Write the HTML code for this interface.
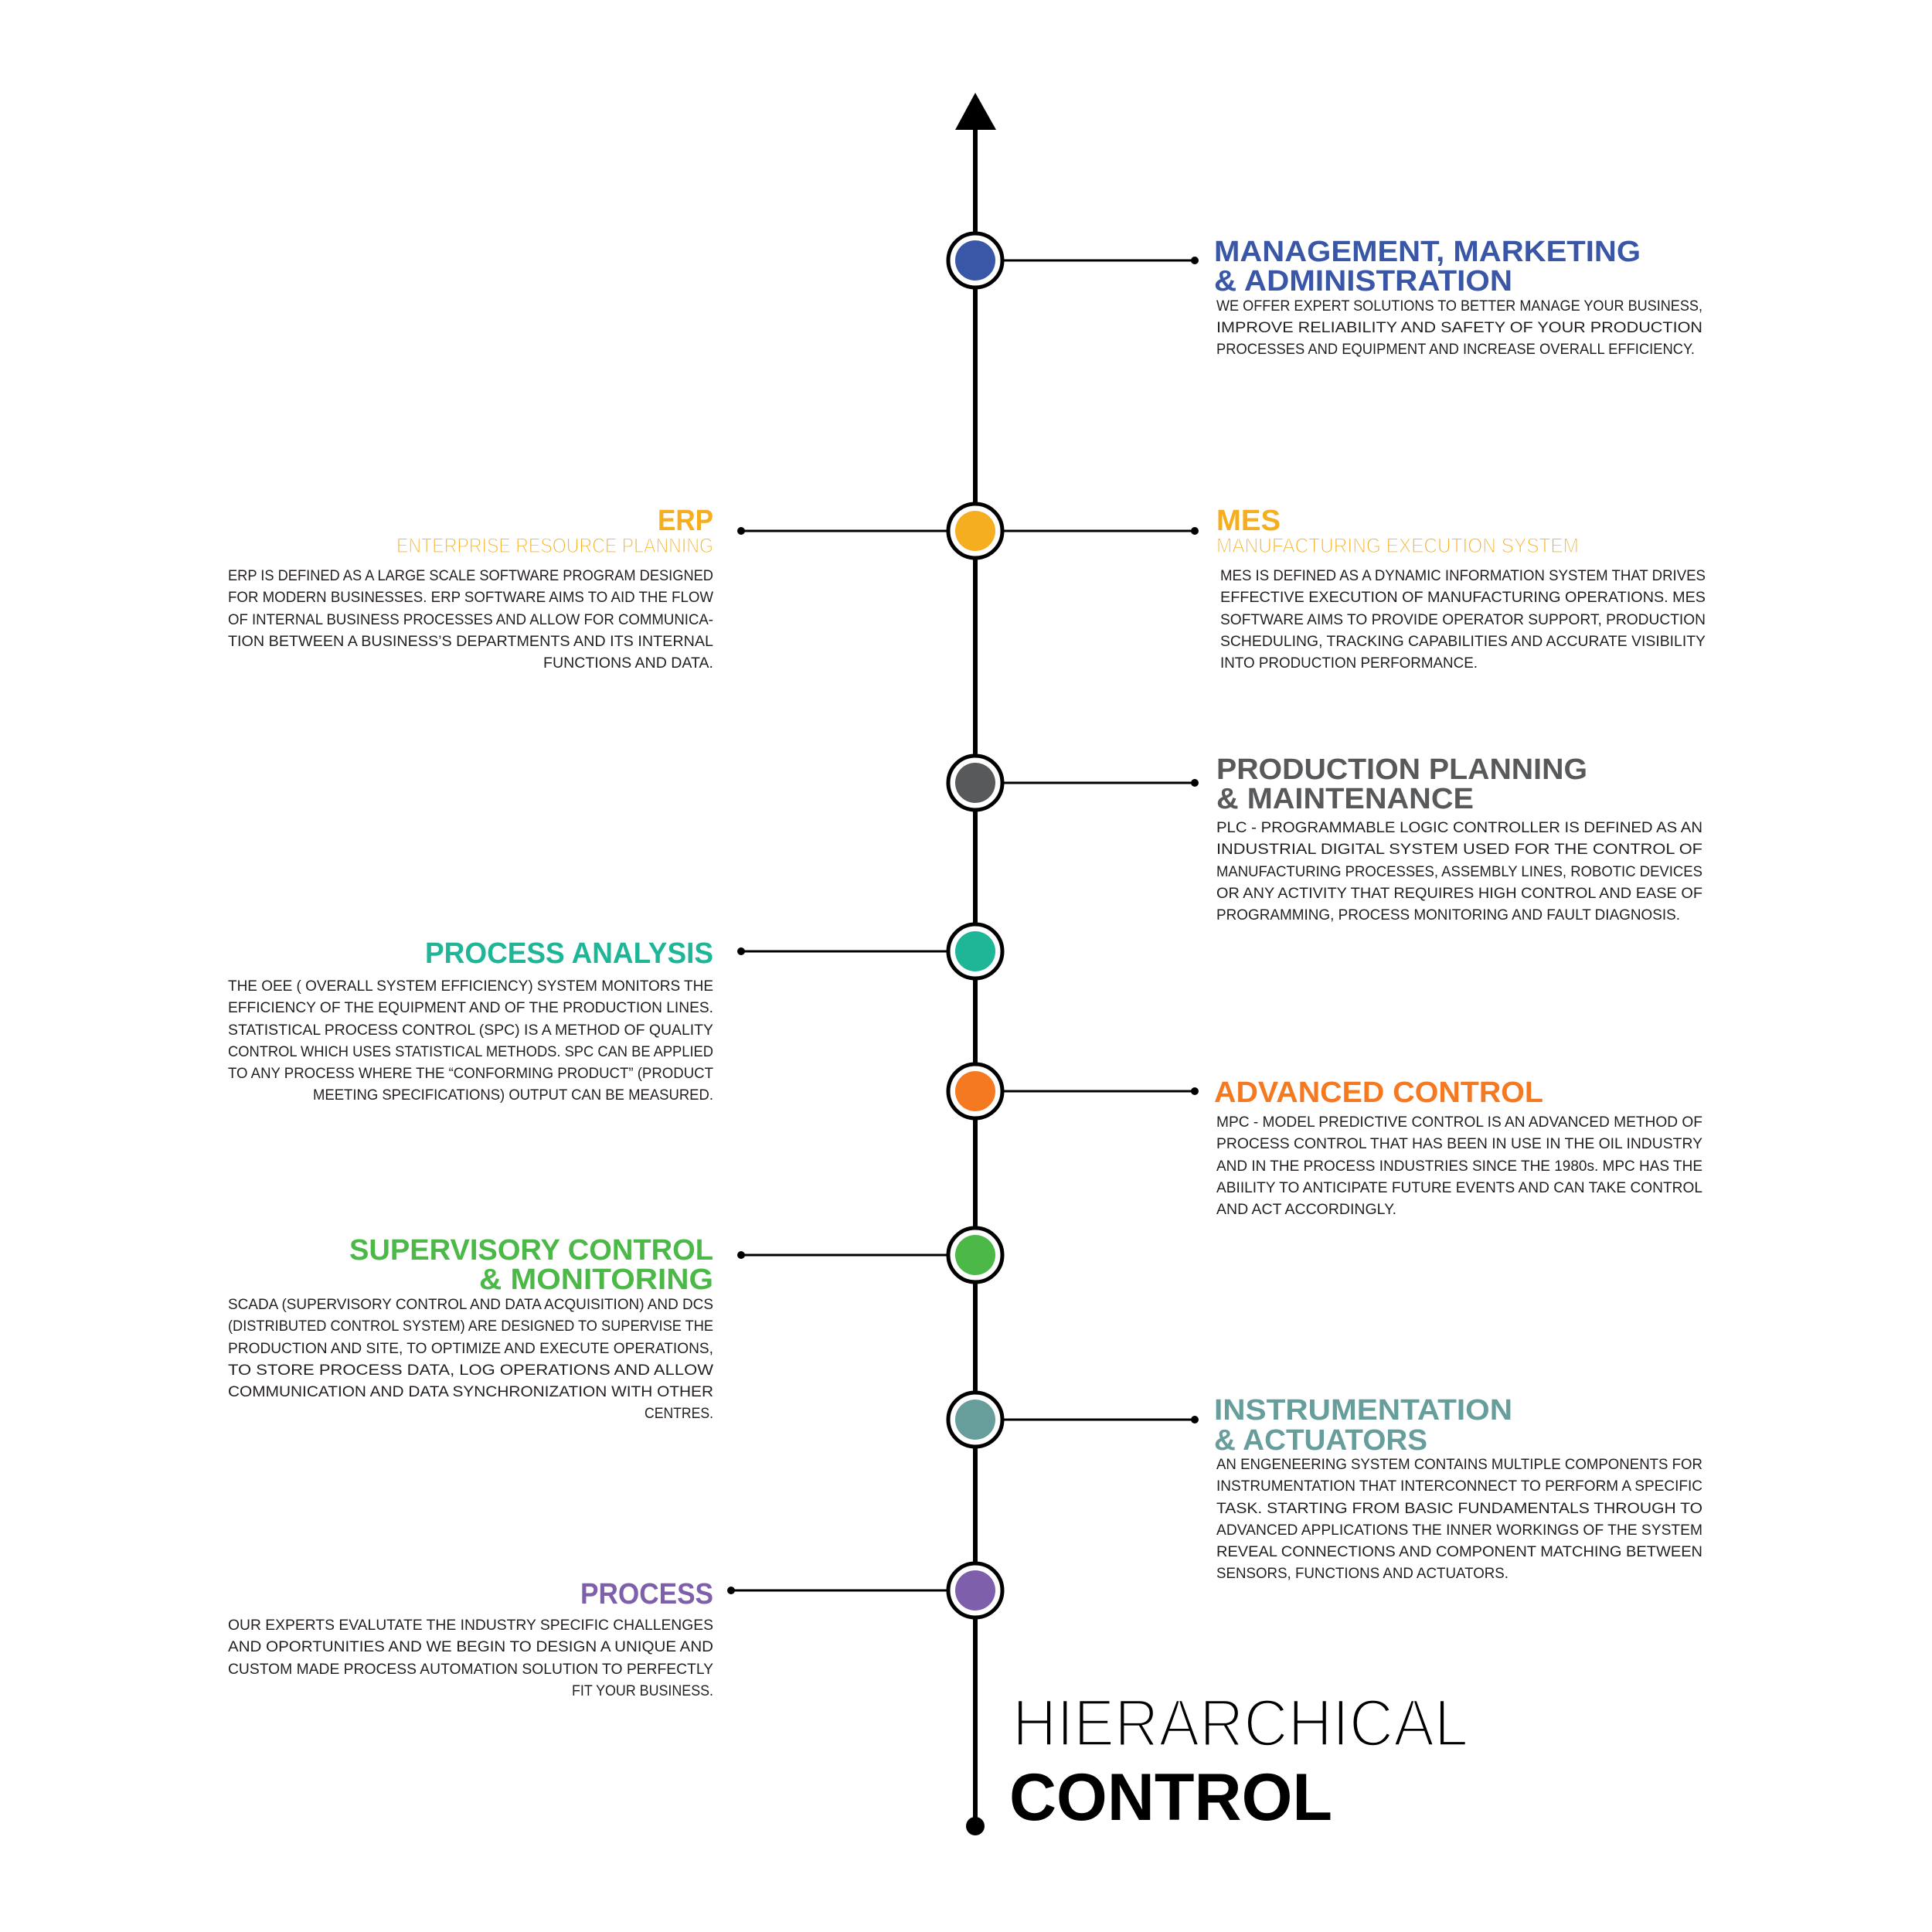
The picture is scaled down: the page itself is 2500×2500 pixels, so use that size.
<!DOCTYPE html>
<html><head><meta charset="utf-8"><style>
html,body{margin:0;padding:0;background:#fff;}
svg{display:block;}
text{font-family:"Liberation Sans",sans-serif;}
.h{font-weight:bold;font-size:38px;}
.b{font-size:19px;fill:#231f20;}
.s{font-size:27px;stroke:#fff;stroke-width:1.2px;paint-order:normal;}
</style></head><body>
<svg width="2500" height="2500" viewBox="0 0 2500 2500" xmlns="http://www.w3.org/2000/svg">
<rect width="2500" height="2500" fill="#fff"/>
<line x1="1262" y1="160" x2="1262" y2="2362" stroke="#000" stroke-width="6"/>
<polygon points="1262,120 1236,168 1289,168" fill="#000"/>
<circle cx="1262" cy="2363" r="12" fill="#000"/>
<g stroke="#000" stroke-width="3">
<line x1="1262" y1="337" x2="1546" y2="337"/>
<line x1="959" y1="687" x2="1546" y2="687"/>
<line x1="1262" y1="1013" x2="1546" y2="1013"/>
<line x1="959" y1="1231" x2="1262" y2="1231"/>
<line x1="1262" y1="1412" x2="1546" y2="1412"/>
<line x1="959" y1="1624" x2="1262" y2="1624"/>
<line x1="1262" y1="1837" x2="1546" y2="1837"/>
<line x1="946" y1="2058" x2="1262" y2="2058"/>
</g>
<g fill="#000">
<circle cx="1546" cy="337" r="5"/><circle cx="959" cy="687" r="5"/><circle cx="1546" cy="687" r="5"/>
<circle cx="1546" cy="1013" r="5"/><circle cx="959" cy="1231" r="5"/><circle cx="1546" cy="1412" r="5"/>
<circle cx="959" cy="1624" r="5"/><circle cx="1546" cy="1837" r="5"/><circle cx="946" cy="2058" r="5"/>
</g>
<g stroke="#000" stroke-width="5" fill="#fff">
<circle cx="1262" cy="337" r="35"/><circle cx="1262" cy="687" r="35"/><circle cx="1262" cy="1013" r="35"/>
<circle cx="1262" cy="1231" r="35"/><circle cx="1262" cy="1412" r="35"/><circle cx="1262" cy="1624" r="35"/>
<circle cx="1262" cy="1837" r="35"/><circle cx="1262" cy="2058" r="35"/>
</g>
<circle cx="1262" cy="337" r="26" fill="#3a57a7"/>
<circle cx="1262" cy="687" r="26" fill="#f5ae1f"/>
<circle cx="1262" cy="1013" r="26" fill="#58595b"/>
<circle cx="1262" cy="1231" r="26" fill="#1fb597"/>
<circle cx="1262" cy="1412" r="26" fill="#f47920"/>
<circle cx="1262" cy="1624" r="26" fill="#4bb848"/>
<circle cx="1262" cy="1837" r="26" fill="#679e9b"/>
<circle cx="1262" cy="2058" r="26" fill="#7e5fab"/>

<g fill="#3a57a7" class="h">
<text x="1571" y="338" textLength="552" lengthAdjust="spacingAndGlyphs">MANAGEMENT, MARKETING</text>
<text x="1571" y="376" textLength="386" lengthAdjust="spacingAndGlyphs">&amp; ADMINISTRATION</text>
</g>
<g class="b">
<text x="1574" y="402" textLength="629" lengthAdjust="spacingAndGlyphs">WE OFFER EXPERT SOLUTIONS TO BETTER MANAGE YOUR BUSINESS,</text>
<text x="1574" y="430" textLength="629" lengthAdjust="spacingAndGlyphs">IMPROVE RELIABILITY AND SAFETY OF YOUR PRODUCTION</text>
<text x="1574" y="458" textLength="619" lengthAdjust="spacingAndGlyphs">PROCESSES AND EQUIPMENT AND INCREASE OVERALL EFFICIENCY.</text>
</g>

<text class="h" fill="#f5ae1f" x="923" y="686" text-anchor="end" textLength="72" lengthAdjust="spacingAndGlyphs">ERP</text>
<text class="s" fill="#f5ae1f" x="923" y="715" text-anchor="end" textLength="410" lengthAdjust="spacingAndGlyphs">ENTERPRISE RESOURCE PLANNING</text>
<g class="b">
<text x="295" y="751" textLength="628" lengthAdjust="spacingAndGlyphs">ERP IS DEFINED AS A LARGE SCALE SOFTWARE PROGRAM DESIGNED</text>
<text x="295" y="779" textLength="628" lengthAdjust="spacingAndGlyphs">FOR MODERN BUSINESSES. ERP SOFTWARE AIMS TO AID THE FLOW</text>
<text x="295" y="808" textLength="628" lengthAdjust="spacingAndGlyphs">OF INTERNAL BUSINESS PROCESSES AND ALLOW FOR COMMUNICA-</text>
<text x="295" y="836" textLength="628" lengthAdjust="spacingAndGlyphs">TION BETWEEN A BUSINESS’S DEPARTMENTS AND ITS INTERNAL</text>
<text x="923" y="864" text-anchor="end" textLength="220" lengthAdjust="spacingAndGlyphs">FUNCTIONS AND DATA.</text>
</g>

<text class="h" fill="#f5ae1f" x="1574" y="686" textLength="83" lengthAdjust="spacingAndGlyphs">MES</text>
<text class="s" fill="#f5ae1f" x="1574" y="715" textLength="469" lengthAdjust="spacingAndGlyphs">MANUFACTURING EXECUTION SYSTEM</text>
<g class="b">
<text x="1579" y="751" textLength="628" lengthAdjust="spacingAndGlyphs">MES IS DEFINED AS A DYNAMIC INFORMATION SYSTEM THAT DRIVES</text>
<text x="1579" y="779" textLength="628" lengthAdjust="spacingAndGlyphs">EFFECTIVE EXECUTION OF MANUFACTURING OPERATIONS. MES</text>
<text x="1579" y="808" textLength="628" lengthAdjust="spacingAndGlyphs">SOFTWARE AIMS TO PROVIDE OPERATOR SUPPORT, PRODUCTION</text>
<text x="1579" y="836" textLength="628" lengthAdjust="spacingAndGlyphs">SCHEDULING, TRACKING CAPABILITIES AND ACCURATE VISIBILITY</text>
<text x="1579" y="864" textLength="333" lengthAdjust="spacingAndGlyphs">INTO PRODUCTION PERFORMANCE.</text>
</g>

<g fill="#58595b" class="h">
<text x="1574" y="1008" textLength="480" lengthAdjust="spacingAndGlyphs">PRODUCTION PLANNING</text>
<text x="1574" y="1046" textLength="333" lengthAdjust="spacingAndGlyphs">&amp; MAINTENANCE</text>
</g>
<g class="b">
<text x="1574" y="1077" textLength="629" lengthAdjust="spacingAndGlyphs">PLC - PROGRAMMABLE LOGIC CONTROLLER IS DEFINED AS AN</text>
<text x="1574" y="1105" textLength="629" lengthAdjust="spacingAndGlyphs">INDUSTRIAL DIGITAL SYSTEM USED FOR THE CONTROL OF</text>
<text x="1574" y="1134" textLength="629" lengthAdjust="spacingAndGlyphs">MANUFACTURING PROCESSES, ASSEMBLY LINES, ROBOTIC DEVICES</text>
<text x="1574" y="1162" textLength="629" lengthAdjust="spacingAndGlyphs">OR ANY ACTIVITY THAT REQUIRES HIGH CONTROL AND EASE OF</text>
<text x="1574" y="1190" textLength="600" lengthAdjust="spacingAndGlyphs">PROGRAMMING, PROCESS MONITORING AND FAULT DIAGNOSIS.</text>
</g>

<text class="h" fill="#1fb597" x="923" y="1246" text-anchor="end" textLength="373" lengthAdjust="spacingAndGlyphs">PROCESS ANALYSIS</text>
<g class="b">
<text x="295" y="1282" textLength="628" lengthAdjust="spacingAndGlyphs">THE OEE ( OVERALL SYSTEM EFFICIENCY) SYSTEM MONITORS THE</text>
<text x="295" y="1310" textLength="628" lengthAdjust="spacingAndGlyphs">EFFICIENCY OF THE EQUIPMENT AND OF THE PRODUCTION LINES.</text>
<text x="295" y="1339" textLength="628" lengthAdjust="spacingAndGlyphs">STATISTICAL PROCESS CONTROL (SPC) IS A METHOD OF QUALITY</text>
<text x="295" y="1367" textLength="628" lengthAdjust="spacingAndGlyphs">CONTROL WHICH USES STATISTICAL METHODS. SPC CAN BE APPLIED</text>
<text x="295" y="1395" textLength="628" lengthAdjust="spacingAndGlyphs">TO ANY PROCESS WHERE THE “CONFORMING PRODUCT” (PRODUCT</text>
<text x="923" y="1423" text-anchor="end" textLength="518" lengthAdjust="spacingAndGlyphs">MEETING SPECIFICATIONS) OUTPUT CAN BE MEASURED.</text>
</g>

<text class="h" fill="#f47920" x="1571" y="1426" textLength="426" lengthAdjust="spacingAndGlyphs">ADVANCED CONTROL</text>
<g class="b">
<text x="1574" y="1458" textLength="629" lengthAdjust="spacingAndGlyphs">MPC - MODEL PREDICTIVE CONTROL IS AN ADVANCED METHOD OF</text>
<text x="1574" y="1486" textLength="629" lengthAdjust="spacingAndGlyphs">PROCESS CONTROL THAT HAS BEEN IN USE IN THE OIL INDUSTRY</text>
<text x="1574" y="1515" textLength="629" lengthAdjust="spacingAndGlyphs">AND IN THE PROCESS INDUSTRIES SINCE THE 1980s. MPC HAS THE</text>
<text x="1574" y="1543" textLength="629" lengthAdjust="spacingAndGlyphs">ABIILITY TO ANTICIPATE FUTURE EVENTS AND CAN TAKE CONTROL</text>
<text x="1574" y="1571" textLength="233" lengthAdjust="spacingAndGlyphs">AND ACT ACCORDINGLY.</text>
</g>

<g fill="#4bb848" class="h">
<text x="923" y="1630" text-anchor="end" textLength="471" lengthAdjust="spacingAndGlyphs">SUPERVISORY CONTROL</text>
<text x="923" y="1668" text-anchor="end" textLength="303" lengthAdjust="spacingAndGlyphs">&amp; MONITORING</text>
</g>
<g class="b">
<text x="295" y="1694" textLength="628" lengthAdjust="spacingAndGlyphs">SCADA (SUPERVISORY CONTROL AND DATA ACQUISITION) AND DCS</text>
<text x="295" y="1722" textLength="628" lengthAdjust="spacingAndGlyphs">(DISTRIBUTED CONTROL SYSTEM) ARE DESIGNED TO SUPERVISE THE</text>
<text x="295" y="1751" textLength="628" lengthAdjust="spacingAndGlyphs">PRODUCTION AND SITE, TO OPTIMIZE AND EXECUTE OPERATIONS,</text>
<text x="295" y="1779" textLength="628" lengthAdjust="spacingAndGlyphs">TO STORE PROCESS DATA, LOG OPERATIONS AND ALLOW</text>
<text x="295" y="1807" textLength="628" lengthAdjust="spacingAndGlyphs">COMMUNICATION AND DATA SYNCHRONIZATION WITH OTHER</text>
<text x="923" y="1835" text-anchor="end" textLength="89" lengthAdjust="spacingAndGlyphs">CENTRES.</text>
</g>

<g fill="#679e9b" class="h">
<text x="1571" y="1837" textLength="386" lengthAdjust="spacingAndGlyphs">INSTRUMENTATION</text>
<text x="1571" y="1876" textLength="276" lengthAdjust="spacingAndGlyphs">&amp; ACTUATORS</text>
</g>
<g class="b">
<text x="1574" y="1901" textLength="629" lengthAdjust="spacingAndGlyphs">AN ENGENEERING SYSTEM CONTAINS MULTIPLE COMPONENTS FOR</text>
<text x="1574" y="1929" textLength="629" lengthAdjust="spacingAndGlyphs">INSTRUMENTATION THAT INTERCONNECT TO PERFORM A SPECIFIC</text>
<text x="1574" y="1958" textLength="629" lengthAdjust="spacingAndGlyphs">TASK. STARTING FROM BASIC FUNDAMENTALS THROUGH TO</text>
<text x="1574" y="1986" textLength="629" lengthAdjust="spacingAndGlyphs">ADVANCED APPLICATIONS THE INNER WORKINGS OF THE SYSTEM</text>
<text x="1574" y="2014" textLength="629" lengthAdjust="spacingAndGlyphs">REVEAL CONNECTIONS AND COMPONENT MATCHING BETWEEN</text>
<text x="1574" y="2042" textLength="378" lengthAdjust="spacingAndGlyphs">SENSORS, FUNCTIONS AND ACTUATORS.</text>
</g>

<text class="h" fill="#7e5fab" x="923" y="2075" text-anchor="end" textLength="172" lengthAdjust="spacingAndGlyphs">PROCESS</text>
<g class="b">
<text x="295" y="2109" textLength="628" lengthAdjust="spacingAndGlyphs">OUR EXPERTS EVALUTATE THE INDUSTRY SPECIFIC CHALLENGES</text>
<text x="295" y="2137" textLength="628" lengthAdjust="spacingAndGlyphs">AND OPORTUNITIES AND WE BEGIN TO  DESIGN A UNIQUE AND</text>
<text x="295" y="2166" textLength="628" lengthAdjust="spacingAndGlyphs">CUSTOM MADE PROCESS AUTOMATION SOLUTION TO PERFECTLY</text>
<text x="923" y="2194" text-anchor="end" textLength="183" lengthAdjust="spacingAndGlyphs">FIT YOUR BUSINESS.</text>
</g>

<text x="1310" y="2259" font-size="86" fill="#000" stroke="#fff" stroke-width="3.5" textLength="590" lengthAdjust="spacingAndGlyphs">HIERARCHICAL</text>
<text x="1306" y="2355" font-size="86" font-weight="bold" fill="#000" textLength="418" lengthAdjust="spacingAndGlyphs">CONTROL</text>
</svg>
</body></html>
